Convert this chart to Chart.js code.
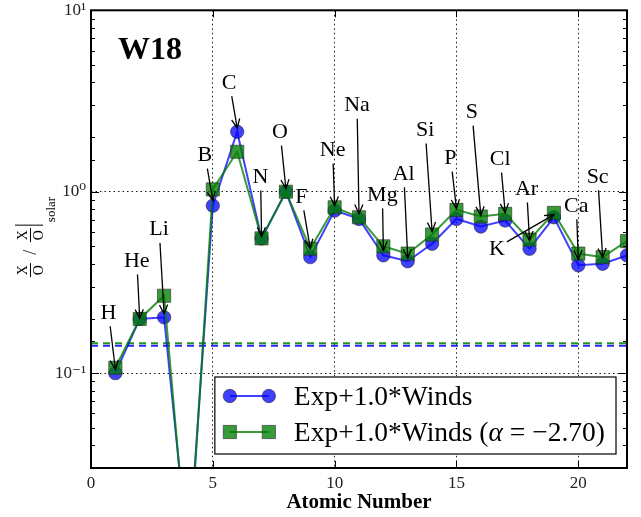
<!DOCTYPE html>
<html><head><meta charset="utf-8">
<script src="https://cdn.jsdelivr.net/npm/chart.js@4/dist/chart.umd.min.js"></script>
<style>html,body{margin:0;padding:0;background:#fff;overflow:hidden}#wrap{width:641px;height:517px}</style>
</head><body><div id="wrap"><canvas id="c" width="641" height="517"></canvas></div>
<script>
// ---------- data ----------
const elements = ['H','He','Li','Be','B','C','N','O','F','Ne','Na','Mg','Al','Si','P','S','Cl','Ar','K','Ca','Sc','Ti'];
const atomicNumbers = [1,2,3,4,5,6,7,8,9,10,11,12,13,14,15,16,17,18,19,20,21,22];
const windsExp = [0.100,0.199,0.203,0.0095,0.838,2.14,0.553,1.00,0.436,0.787,0.708,0.446,0.414,0.517,0.708,0.643,0.694,0.485,0.723,0.393,0.401,0.446];
const windsExpAlpha = [0.107,0.199,0.267,0.008,1.03,1.66,0.553,1.00,0.485,0.82,0.723,0.50,0.456,0.581,0.794,0.730,0.755,0.544,0.764,0.456,0.436,0.534];
const arrowTargets = [0.105,0.200,0.212,null,0.893,2.24,0.567,1.04,0.487,0.838,0.757,0.475,0.430,0.604,0.807,0.738,0.767,0.539,0.748,0.424,0.435,null];
const solarLineBlue = 0.1415;
const solarLineGreen = 0.146;
const seriesLabels = ['Exp+1.0*Winds','Exp+1.0*Winds (α = −2.70)'];
const xTickValues = [0,5,10,15,20];
const yMajorValues = [0.1,1,10];
const yMajorLabels = ['10⁻¹','10⁰','10¹'];
const xRange = [0,22];
const yRange = [0.03,10];
const panelTitle = 'W18';
const xAxisTitle = 'Atomic Number';
const yLabelParts = {num:'X', den:'O', sep:'/', sub:'solar'};

// ---------- style ----------
const SERIF = '"Liberation Serif","DejaVu Serif",serif';
const labelOffsets = [[-7,-58],[-3,-59],[-5,-86],null,[-8,-47],[-8,-47],[-1,-61],[-6,-58],[-9,-53],[-2,-57],[-2,-110],[-1,-57],[-4,-86],[-7,-103],[-6,-52],[-9,-105],[-5,-55],[-3,-53],[-57,33],[-2,-55],[-5,-82],null];
const BLUE = 'rgba(0,0,255,0.75)', GREEN = 'rgba(0,125,0,0.78)';
const LEG_FONT = 27.5;

function isMajor(v){const l=Math.log10(v);return Math.abs(l-Math.round(l))<1e-6;}

function drawArrow(ctx,sx,sy,tx,ty){
  ctx.beginPath();ctx.moveTo(sx,sy);ctx.lineTo(tx,ty);ctx.stroke();
  const ang=Math.atan2(ty-sy,tx-sx), L=10, h=0.42;
  ctx.beginPath();
  ctx.moveTo(tx-L*Math.cos(ang-h),ty-L*Math.sin(ang-h));
  ctx.lineTo(tx,ty);
  ctx.lineTo(tx-L*Math.cos(ang+h),ty-L*Math.sin(ang+h));
  ctx.stroke();
}

function drawMarker(ctx,style,x,y,fill){
  ctx.fillStyle=fill;ctx.strokeStyle='rgba(40,40,40,0.6)';ctx.lineWidth=1;
  ctx.beginPath();
  if(style==='circle'){ctx.arc(x,y,6.7,0,Math.PI*2);}else{ctx.rect(x-6.6,y-6.6,13.2,13.2);}
  ctx.fill();ctx.stroke();
}

const overlay = {
  id:'overlay',
  afterDatasetsDraw(chart){
    const {ctx, chartArea:a, scales:{x,y}} = chart;
    ctx.save();
    // annotations
    ctx.font='22px '+SERIF;ctx.fillStyle='#000';ctx.strokeStyle='#000';ctx.lineWidth=1.3;
    ctx.textAlign='center';ctx.textBaseline='alphabetic';
    elements.forEach((el,i)=>{
      const off=labelOffsets[i]; if(!off||arrowTargets[i]==null) return;
      const tx=x.getPixelForValue(atomicNumbers[i]), ty=y.getPixelForValue(arrowTargets[i]);
      const cx=tx+off[0], cy=ty+off[1];
      const w=ctx.measureText(el).width;
      ctx.fillText(el,cx,cy+7.5);
      const hw=w/2+2, hT=13, hB=15;
      const dx=tx-cx, dy=ty-cy;
      let s=Infinity;
      if(Math.abs(dx)>1e-6) s=Math.min(s,hw/Math.abs(dx));
      if(dy>0) s=Math.min(s,hB/dy); else if(dy<0) s=Math.min(s,hT/(-dy));
      drawArrow(ctx,cx+dx*s,cy+dy*s,tx,ty);
    });
    // legend
    const F=LEG_FONT+'px '+SERIF, FI='italic '+LEG_FONT+'px '+SERIF;
    ctx.font=F;
    const parts2 = seriesLabels[1].split('α');
    const wA = ctx.measureText(parts2[0]).width;
    ctx.font=FI;
    const wAl = ctx.measureText('α').width;
    ctx.font=F;
    const wB = ctx.measureText(parts2[1]).width;
    const w1 = ctx.measureText(seriesLabels[0]).width;
    const textW = Math.max(w1, wA+wAl+wB);
    const right=a.right-11, bottom=a.bottom-14;
    const left=right-(15+39+25+textW+11), top=bottom-77;
    ctx.fillStyle='#fff';ctx.fillRect(left,top,right-left,bottom-top);
    ctx.strokeStyle='#000';ctx.lineWidth=1.2;ctx.strokeRect(left,top,right-left,bottom-top);
    const rows=[top+19,top+55];
    const styles=['circle','rect'], cols=[BLUE,GREEN];
    rows.forEach((ry,k)=>{
      const x1=left+15,x2=left+54;
      ctx.strokeStyle=cols[k];ctx.lineWidth=2;
      ctx.beginPath();ctx.moveTo(x1,ry);ctx.lineTo(x2,ry);ctx.stroke();
      drawMarker(ctx,styles[k],x1,ry,cols[k]);
      drawMarker(ctx,styles[k],x2,ry,cols[k]);
    });
    ctx.fillStyle='#000';ctx.textAlign='left';ctx.textBaseline='alphabetic';
    const tx0=left+79;
    ctx.font=F;
    ctx.fillText(seriesLabels[0],tx0,rows[0]+9);
    ctx.fillText(parts2[0],tx0,rows[1]+9);
    ctx.font=FI;
    ctx.fillText('α',tx0+wA,rows[1]+9);
    ctx.font=F;
    ctx.fillText(parts2[1],tx0+wA+wAl,rows[1]+9);
    // inward ticks
    ctx.strokeStyle='#000';ctx.lineWidth=1;
    y.ticks.forEach(t=>{
      const py=Math.round(y.getPixelForValue(t.value))+0.5;
      const len=isMajor(t.value)?8:4;
      ctx.beginPath();ctx.moveTo(a.left,py);ctx.lineTo(a.left+len,py);
      ctx.moveTo(a.right,py);ctx.lineTo(a.right-len,py);ctx.stroke();
    });
    x.ticks.forEach(t=>{
      const px=Math.round(x.getPixelForValue(t.value))+0.5;
      ctx.beginPath();ctx.moveTo(px,a.bottom);ctx.lineTo(px,a.bottom-7);
      ctx.moveTo(px,a.top);ctx.lineTo(px,a.top+7);ctx.stroke();
    });
    // frame
    ctx.lineWidth=2;ctx.strokeStyle='#000';
    ctx.strokeRect(a.left,a.top,a.right-a.left,a.bottom-a.top);
    // panel title
    ctx.font='bold 32px '+SERIF;ctx.textAlign='center';ctx.fillStyle='#000';
    ctx.fillText(panelTitle,a.left+59,a.top+49);
    ctx.restore();
    // y label
    ctx.save();
    const cy=(a.top+a.bottom)/2-1;
    ctx.translate(30,cy);ctx.rotate(-Math.PI/2);
    ctx.fillStyle='#000';ctx.strokeStyle='#000';ctx.textAlign='center';ctx.textBaseline='alphabetic';
    const frac=(u)=>{
      ctx.font='14px '+SERIF;
      ctx.fillText(yLabelParts.num,u,-3);
      ctx.fillText(yLabelParts.den,u,12.5);
      ctx.lineWidth=1;ctx.beginPath();ctx.moveTo(u-7,0.5);ctx.lineTo(u+7,0.5);ctx.stroke();
    };
    frac(-32);
    ctx.font='18px '+SERIF;ctx.fillText(yLabelParts.sep,-14,6);
    frac(3);
    ctx.lineWidth=1;ctx.beginPath();ctx.moveTo(13,-15);ctx.lineTo(13,13);ctx.stroke();
    ctx.font='13px '+SERIF;ctx.textAlign='left';ctx.fillText(yLabelParts.sub,16,25);
    ctx.restore();
  }
};

const pts = arr => atomicNumbers.map((z,i)=>({x:z,y:arr[i]}));
const flat = v => xRange.map(xx=>({x:xx,y:v}));

new Chart(document.getElementById('c').getContext('2d'),{
  type:'line',
  data:{datasets:[
    {label:seriesLabels[0],data:pts(windsExp),borderColor:BLUE,backgroundColor:BLUE,borderWidth:2,
     pointStyle:'circle',pointRadius:6.7,pointBorderWidth:1,pointBackgroundColor:BLUE,pointBorderColor:'rgba(40,40,40,0.6)',order:1,tension:0},
    {label:seriesLabels[1],data:pts(windsExpAlpha),borderColor:GREEN,backgroundColor:GREEN,borderWidth:2,
     pointStyle:'rect',pointRadius:9.3,pointBorderWidth:1,pointBackgroundColor:GREEN,pointBorderColor:'rgba(40,40,40,0.6)',order:0,tension:0},
    {label:'solar-blue',data:flat(solarLineBlue),borderColor:'rgba(0,0,255,0.85)',borderWidth:2,borderDash:[7,5],pointRadius:0,order:3},
    {label:'solar-green',data:flat(solarLineGreen),borderColor:'rgba(0,128,0,0.85)',borderWidth:2,borderDash:[7,5],pointRadius:0,order:2}
  ]},
  options:{
    responsive:false,animation:false,devicePixelRatio:1,
    layout:{padding:{top:8,right:14,left:0,bottom:0}},
    plugins:{legend:{display:false},tooltip:{enabled:false}},
    elements:{line:{tension:0}},
    scales:{
      x:{type:'linear',min:xRange[0],max:xRange[1],
        afterBuildTicks:s=>{s.ticks=xTickValues.map(v=>({value:v}));},
        afterFit:s=>{s.height=49;s.paddingLeft=0;s.paddingRight=0;},
        grid:{color:c=>(c.tick&&c.tick.value>xRange[0])?'rgba(0,0,0,0.9)':'rgba(0,0,0,0)',lineWidth:1,drawTicks:false},
        border:{display:false,dash:[1.5,3]},
        ticks:{font:{family:SERIF,size:17},color:'#222',padding:5,maxRotation:0,autoSkip:false,callback:v=>String(v)},
        title:{display:true,text:xAxisTitle,font:{family:SERIF,size:21,weight:'bold'},color:'#000',padding:{top:0,bottom:2}}
      },
      y:{type:'logarithmic',min:yRange[0],max:yRange[1],
        afterFit:s=>{s.width=91;s.paddingTop=0;s.paddingBottom=0;},
        grid:{color:c=>(c.tick&&isMajor(c.tick.value)&&c.tick.value<yRange[1])?'rgba(0,0,0,0.9)':'rgba(0,0,0,0)',lineWidth:1,drawTicks:false},
        border:{display:false,dash:[1.5,3]},
        ticks:{font:{family:SERIF,size:17},color:'#222',padding:5,autoSkip:false,
          callback:v=>{const i=yMajorValues.findIndex(m=>Math.abs(m-v)/m<1e-6);return i>=0?yMajorLabels[i]:'';}}
      }
    }
  },
  plugins:[overlay]
});
</script></body></html>
